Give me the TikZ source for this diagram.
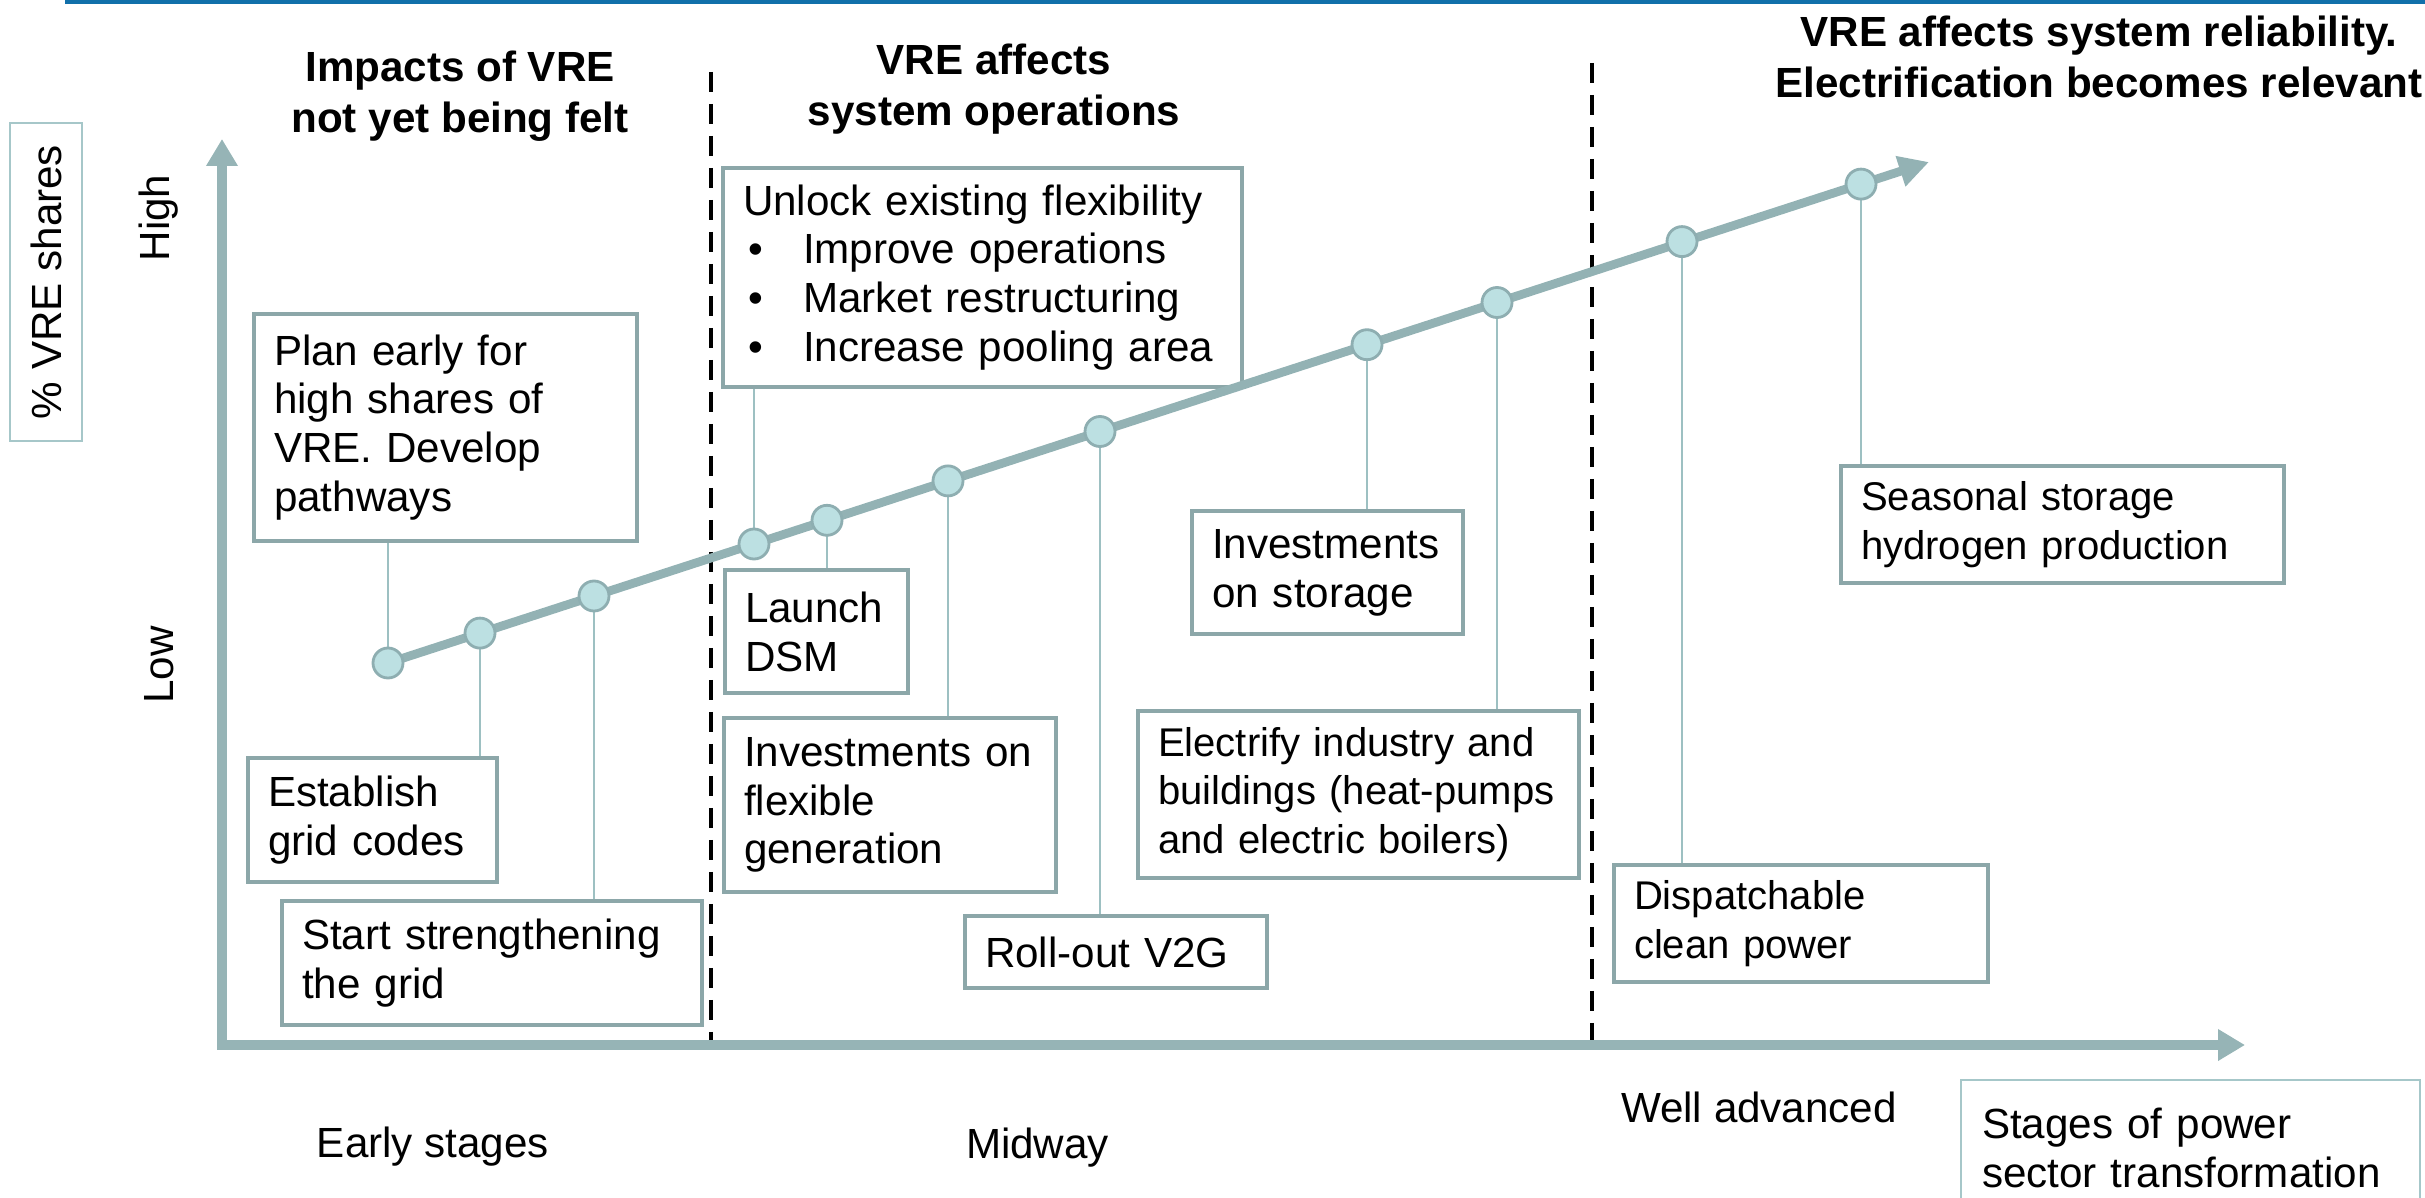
\documentclass[tikz,border=0pt]{standalone}
\usepackage{fontspec}
\setmainfont{Liberation Sans}
\usetikzlibrary{arrows.meta, positioning}

\definecolor{topbar}{HTML}{1170AA}
\definecolor{axisline}{HTML}{96B4B6}
\definecolor{trendline}{HTML}{93B2B4}
\definecolor{dotfill}{HTML}{BCE0E2}
\definecolor{dotline}{HTML}{8EAEB1}
\definecolor{boxline}{HTML}{8CA7A9}
\definecolor{linkline}{HTML}{9DC0C2}
\definecolor{thinline}{HTML}{A6C7C9}

\newcommand{\itembul}{\makebox[0.6cm][l]{\hspace{0.05cm}\textbullet}}

\begin{document}
\begin{tikzpicture}[font=\fontsize{12}{13.9}\selectfont,
  box/.style={draw=boxline, line width=1.3pt, fill=white, inner xsep=0.2cm, inner ysep=0pt, align=left},
  smallbox/.style={box, font=\fontsize{11.4}{13.9}\selectfont},
  thinbox/.style={draw=thinline, line width=0.6pt, inner sep=0pt},
  dot/.style={circle, draw=dotline, fill=dotfill, line width=0.8pt, minimum size=0.3cm, inner sep=0pt},
  link/.style={draw=linkline, line width=0.6pt},
  head/.style={font=\fontsize{12}{14.4}\selectfont\bfseries, align=center},
  divider/.style={black, line width=0.9pt, dash pattern=on 0.2cm off 0.12cm}]
\useasboundingbox (0,0) rectangle (24.25,11.97);
\fill[topbar] (0.65,11.93) rectangle (24.25,11.97);

\node[head] (h1) at (4.60,11.01) {Impacts of VRE\\not yet being felt};
\node[head] (h2) at (9.94,11.08) {VRE affects\\system operations};
\node[head] (h3) at (20.99,11.40) {VRE affects system reliability.\\Electrification becomes relevant};

\draw[divider] (7.11,11.25) -- (7.11,1.57);
\draw[divider] (15.92,11.34) -- (15.92,1.57);

\coordinate (origin) at (2.22,1.52);
\coordinate (ytop) at (2.22,10.58);
\coordinate (xend) at (22.45,1.52);
\draw[axisline, line width=2.6pt, {Triangle[length=0.27cm,width=0.3cm]}-{Triangle[length=0.27cm,width=0.3cm]}] (ytop) -- (origin) -- (xend);

\node[thinbox, rotate=90, minimum width=3.18cm, minimum height=0.72cm] (share) at (0.46,9.15) {\% VRE shares};
\node[rotate=90] (high) at (1.59,9.79) {High};
\node[rotate=90] (low) at (1.59,5.32) {Low};

\node[anchor=base] (early) at (4.33,0.40) {Early stages};
\node[anchor=base] (mid) at (10.375,0.39) {Midway};
\node[anchor=base] (late) at (17.59,0.75) {Well advanced};
\node[thinbox, anchor=north west, inner xsep=0.21cm, text width=4.17cm, align=left, minimum height=1.35cm] (stages) at (19.60,1.18) {Stages of power\\sector transformation};

\node[box, text width=3.43cm, minimum height=2.27cm] (plan) at (4.455,7.695) {Plan early for\\high shares of\\VRE. Develop\\pathways};
\node[box, text width=2.09cm, minimum height=1.24cm] (grid) at (3.725,3.77) {Establish\\grid codes};
\node[box, text width=3.80cm, minimum height=1.24cm] (strength) at (4.92,2.34) {Start strengthening\\the grid};
\node[box, text width=4.79cm, minimum height=2.19cm] (unlock) at (9.825,9.195) {Unlock existing flexibility\\\itembul Improve operations\\\itembul Market restructuring\\\itembul Increase pooling area};
\node[box, text width=1.43cm, minimum height=1.23cm] (dsm) at (8.165,5.655) {Launch\\DSM};
\node[box, text width=2.92cm, minimum height=1.74cm] (flexgen) at (8.90,3.92) {Investments on\\flexible\\generation};
\node[box, text width=2.62cm, minimum height=0.72cm] (vtwog) at (11.16,2.45) {Roll-out V2G};
\node[box, text width=2.31cm, minimum height=1.23cm] (storage) at (13.275,6.245) {Investments\\on storage};
\node[smallbox, text width=4.01cm, minimum height=1.67cm] (electrify) at (13.585,4.025) {Electrify industry and\\buildings (heat-pumps\\and electric boilers)};
\node[smallbox, text width=3.34cm, minimum height=1.17cm] (dispatch) at (18.01,2.735) {Dispatchable\\clean power};
\node[smallbox, text width=4.03cm, minimum height=1.17cm] (seasonal) at (20.625,6.725) {Seasonal storage\\hydrogen production};

\coordinate (c1) at (3.88,5.340);
\coordinate (c2) at (4.80,5.639);
\coordinate (c3) at (5.94,6.010);
\coordinate (c4) at (7.54,6.530);
\coordinate (c5) at (8.27,6.767);
\coordinate (c6) at (9.48,7.161);
\coordinate (c7) at (11.00,7.655);
\coordinate (c8) at (13.67,8.523);
\coordinate (c9) at (14.97,8.945);
\coordinate (c10) at (16.82,9.554);
\coordinate (c11) at (18.61,10.129);
\coordinate (tip) at (19.29,10.35);

\draw[link] (c1) -- (plan.south -| c1);
\draw[link] (c2) -- (grid.north -| c2);
\draw[link] (c3) -- (strength.north -| c3);
\draw[link] (c4) -- (unlock.south -| c4);
\draw[link] (c5) -- (dsm.north -| c5);
\draw[link] (c6) -- (flexgen.north -| c6);
\draw[link] (c7) -- (vtwog.north -| c7);
\draw[link] (c8) -- (storage.north -| c8);
\draw[link] (c9) -- (electrify.north -| c9);
\draw[link] (c10) -- (dispatch.north -| c10);
\draw[link] (c11) -- (seasonal.north -| c11);

\draw[trendline, line width=2.5pt, -{Triangle[length=0.3cm,width=0.3cm]}] (c1) -- (tip);
\foreach \i in {1,...,11}
  \node[dot] (p\i) at (c\i) {};
\end{tikzpicture}
\end{document}
